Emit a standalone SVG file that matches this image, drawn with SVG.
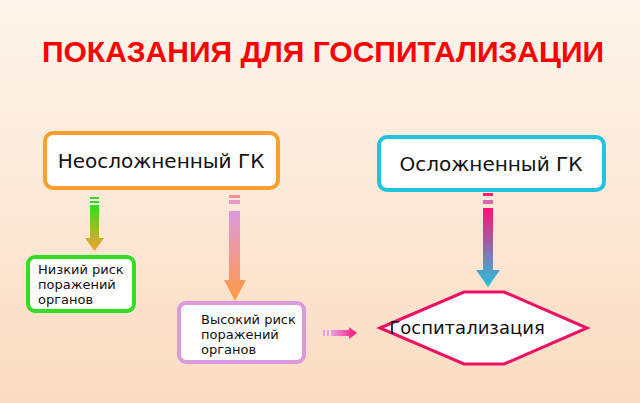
<svg xmlns="http://www.w3.org/2000/svg" width="640" height="403" viewBox="0 0 640 403">
<defs>
<linearGradient id="bg" x1="0" y1="0" x2="0" y2="1"><stop offset="0" stop-color="#fdf5ec"/><stop offset="1" stop-color="#fbdcc2"/></linearGradient>
<linearGradient id="g1" x1="0" y1="0" x2="0" y2="1"><stop offset="0" stop-color="#33dd22"/><stop offset="1" stop-color="#f7a030"/></linearGradient>
<linearGradient id="g2" x1="0" y1="0" x2="0" y2="1"><stop offset="0" stop-color="#dd99dd"/><stop offset="1" stop-color="#ff9944"/></linearGradient>
<linearGradient id="g3" x1="0" y1="0" x2="0" y2="1"><stop offset="0" stop-color="#ff1177"/><stop offset="1" stop-color="#22c4dd"/></linearGradient>
<linearGradient id="g4" x1="0" y1="0" x2="1" y2="0"><stop offset="0" stop-color="#e8a0e8"/><stop offset="1" stop-color="#ff1177"/></linearGradient>
</defs>
<style>
.t{font-family:"DejaVu Sans",sans-serif;fill:#111}
.box{fill:#fff;stroke-width:4}
</style>
<rect width="640" height="403" fill="url(#bg)"/>
<text x="323" y="62" text-anchor="middle" style="font-family:'Liberation Sans',Arial,sans-serif;font-weight:bold;font-size:30px;fill:#ff0000">ПОКАЗАНИЯ ДЛЯ ГОСПИТАЛИЗАЦИИ</text>
<g id="connectors">
<rect x="90" y="197" width="9" height="2" fill="#33dd22"/><rect x="90" y="201" width="9" height="2" fill="#33dd22"/>
<path d="M90 205H99V238H104L94.5 251L85 238H90Z" fill="url(#g1)"/>
<rect x="229" y="195" width="11" height="3" fill="#f09090"/><rect x="229" y="200" width="11" height="4" fill="#e899cc"/>
<path d="M229 211H240V280H246L235 301L224 280H229Z" fill="url(#g2)"/>
<rect x="483" y="193" width="10" height="3" fill="#ff2277"/><rect x="483" y="200" width="10" height="4" fill="#dd66aa"/>
<path d="M483 208H493V270H500L488 287L476 270H483Z" fill="url(#g3)"/>
<rect x="323" y="330" width="2" height="6" fill="#e8a0e8"/><rect x="327" y="330" width="2" height="6" fill="#e8a0e8"/>
<path d="M331 330H349V327L357 333L349 339V336H331Z" fill="url(#g4)"/>
</g>
<g id="n1"><rect class="box" x="45" y="133" width="233" height="55" rx="8" stroke="#f7a030"/><text class="t" x="161" y="168" text-anchor="middle" font-size="20">Неосложненный ГК</text></g>
<g id="n2"><rect class="box" x="379" y="137" width="225" height="53" rx="8" stroke="#22c4dd"/><text class="t" x="491" y="171" text-anchor="middle" font-size="20">Осложненный ГК</text></g>
<g id="n3"><rect class="box" x="28" y="257" width="106" height="54" rx="7" stroke="#33dd22" stroke-width="3"/><text class="t" font-size="13"><tspan x="38" y="274">Низкий риск</tspan><tspan x="38" y="289">поражений</tspan><tspan x="38" y="304">органов</tspan></text></g>
<g id="n4"><rect class="box" x="179" y="303" width="125" height="59" rx="7" stroke="#dd99dd" stroke-width="3"/><text class="t" font-size="13"><tspan x="201" y="324">Высокий риск</tspan><tspan x="201" y="339">поражений</tspan><tspan x="201" y="354">органов</tspan></text></g>
<g id="n5"><polygon points="380,328 464,292 504,292 587,328 504,364 464,364" fill="#fff" stroke="#ee1166" stroke-width="3"/><text class="t" x="467" y="334" text-anchor="middle" font-size="18">Госпитализация</text></g>
</svg>
